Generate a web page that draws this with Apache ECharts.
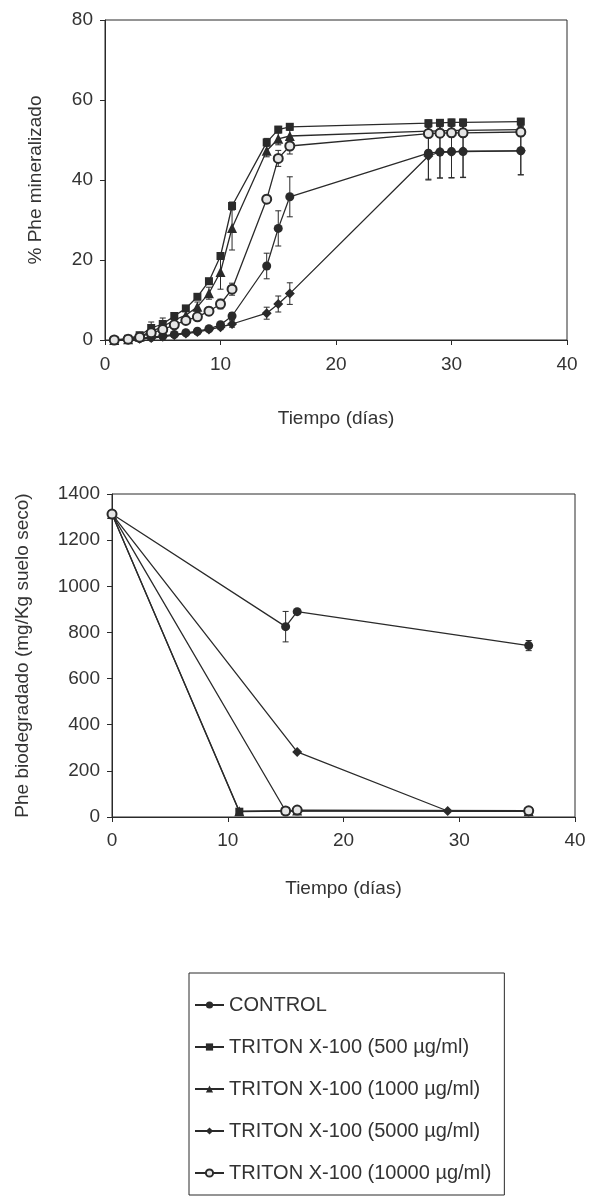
<!DOCTYPE html>
<html>
<head>
<meta charset="utf-8">
<script src="https://cdn.jsdelivr.net/npm/echarts@6/dist/echarts.min.js"></script>
<style>
  html, body { margin: 0; padding: 0; background: #fff; }
  #chart { width: 589px; height: 1204px; }
</style>
</head>
<body>
<div id="chart"></div>
<script>
// nombres de las series
var names = ['CONTROL', 'TRITON X-100 (500 \u00b5g/ml)', 'TRITON X-100 (1000 \u00b5g/ml)',
  'TRITON X-100 (5000 \u00b5g/ml)', 'TRITON X-100 (10000 \u00b5g/ml)'];

// grafico superior: % Phe mineralizado
var diasMin = [0.8, 2, 3, 4, 5, 6, 7, 8, 9, 10, 11, 14, 15, 16, 28, 29, 30, 31, 36];
var minControl = [0, 0.1, 0.4, 0.7, 1.0, 1.4, 1.8, 2.2, 2.8, 3.8, 6.0, 18.5, 27.9, 35.8, 46.7, 47, 47.1, 47.1, 47.3];
var min500 = [0, 0.3, 1.2, 3.0, 4.0, 6.0, 7.9, 10.8, 14.7, 21, 33.5, 49.4, 52.6, 53.3, 54.2, 54.3, 54.4, 54.4, 54.6];
var min1000 = [0, 0.2, 0.8, 2.2, 3.3, 5.0, 6.2, 8.3, 11.7, 17, 28, 47.3, 50.3, 51, 52.2, 52.3, 52.4, 52.4, 52.6];
var min5000 = [0, 0.1, 0.3, 0.5, 0.8, 1.2, 1.6, 2.0, 2.6, 3.2, 4.0, 6.7, 9.0, 11.6, 46, 47, 47, 47.2, 47.3];
var min10000 = [0, 0.2, 0.7, 1.8, 2.6, 3.8, 4.9, 5.8, 7.2, 9.0, 12.7, 35.2, 45.4, 48.5, 51.6, 51.7, 51.8, 51.8, 52];
var errControl = [0, 0, 0, 0.3, 0.3, 0.3, 0.3, 0.3, 0.5, 0.5, 0.8, 3.2, 4.4, 5, 6.5, 6.5, 6.5, 6.5, 6];
var err500 = [0, 0, 0.3, 1.5, 1.5, 0.5, 0.5, 0.5, 0.5, 0.8, 1, 1, 0.8, 0.8, 0.8, 0.8, 0.8, 0.8, 0.8];
var err1000 = [0, 0, 0.3, 1, 1, 1, 1, 1.2, 1.5, 4.3, 5.5, 1.5, 1.5, 1.5, 1, 1, 1, 1, 1];
var err5000 = [0, 0, 0, 0.3, 0.3, 0.3, 0.3, 0.4, 0.4, 0.6, 0.8, 1.5, 2, 2.7, 6, 6.5, 6.5, 6.5, 6];
var err10000 = [0, 0, 0.3, 0.8, 0.8, 0.8, 0.8, 0.8, 1, 1.2, 1.5, 1, 2, 2, 1, 1, 1, 1, 1];

// grafico inferior: Phe biodegradado
var diasControl = [0, 15, 16, 36];
var bioControl = [1313, 825, 890, 743];
var errBioControl = [0, 66, 0, 22];
var dias500 = [0, 11, 15, 36];
var bio500 = [1313, 23, 26, 26];
var dias1000 = [0, 11, 16, 36];
var bio1000 = [1313, 25, 28, 25];
var dias5000 = [0, 16, 29, 36];
var bio5000 = [1313, 282, 26, 24];
var dias10000 = [0, 15, 16, 36];
var bio10000 = [1313, 26, 30, 27];

var ink = '#2a2a2a';
var txt = '#333';
var font = 'Liberation Sans';

var marks = [
  { symbol: 'circle', size: 9, fill: ink },
  { symbol: 'rect', size: 8, fill: ink },
  { symbol: 'triangle', size: 10, fill: ink },
  { symbol: 'diamond', size: 10, fill: ink },
  { symbol: 'circle', size: 9, fill: '#e6e6e6' }
];

function pairs(xs, ys) {
  return xs.map(function (x, i) { return [x, ys[i]]; });
}
function bars(xs, ys, es) {
  var out = [];
  xs.forEach(function (x, i) {
    if (es[i] > 0) out.push([x, ys[i] - es[i], ys[i] + es[i]]);
  });
  return out;
}

function lineSeries(i, idx, data) {
  return {
    name: names[i],
    type: 'line',
    xAxisIndex: idx, yAxisIndex: idx,
    data: data,
    symbol: marks[i].symbol,
    symbolSize: marks[i].size,
    showAllSymbol: true,
    lineStyle: { color: ink, width: 1.3 },
    itemStyle: { color: marks[i].fill, borderColor: ink, borderWidth: marks[i].fill === ink ? 0 : 2 },
    emphasis: { disabled: true },
    animation: false,
    z: 3
  };
}

function errorItem(params, api) {
  var x = api.value(0);
  var top = api.coord([x, api.value(2)]);
  var bot = api.coord([x, api.value(1)]);
  var w = 3;
  var st = { stroke: ink, lineWidth: 1 };
  return {
    type: 'group',
    children: [
      { type: 'line', shape: { x1: top[0], y1: top[1], x2: bot[0], y2: bot[1] }, style: st },
      { type: 'line', shape: { x1: top[0] - w, y1: top[1], x2: top[0] + w, y2: top[1] }, style: st },
      { type: 'line', shape: { x1: bot[0] - w, y1: bot[1], x2: bot[0] + w, y2: bot[1] }, style: st }
    ]
  };
}
function errorSeries(idx, data) {
  return {
    type: 'custom',
    xAxisIndex: idx, yAxisIndex: idx,
    renderItem: errorItem,
    encode: { x: 0, y: [1, 2] },
    data: data,
    silent: true,
    animation: false,
    z: 2
  };
}

function xAxisCfg(idx, gap, margin) {
  return {
    type: 'value', gridIndex: idx, min: 0, max: 40, interval: 10,
    name: 'Tiempo (d\u00edas)', nameLocation: 'middle', nameGap: gap,
    nameTextStyle: { color: txt, fontSize: 19, fontFamily: font },
    axisLine: { lineStyle: { color: ink, width: 1 } },
    axisTick: { show: true, length: 5, lineStyle: { color: ink } },
    axisLabel: { color: txt, fontSize: 19, fontFamily: font, margin: margin },
    splitLine: { show: false }
  };
}
function yAxisCfg(idx, max, interval, title, gap) {
  return {
    type: 'value', gridIndex: idx, min: 0, max: max, interval: interval,
    name: title, nameLocation: 'middle', nameGap: gap,
    nameTextStyle: { color: txt, fontSize: 19, fontFamily: font },
    axisLine: { show: true, lineStyle: { color: ink, width: 1 } },
    axisTick: { show: true, length: 5, lineStyle: { color: ink } },
    axisLabel: { color: txt, fontSize: 19, fontFamily: font, margin: 12,
      formatter: function (v) { return String(v); } },
    splitLine: { show: false }
  };
}

var minSets = [minControl, min500, min1000, min5000, min10000];
var minErrs = [errControl, err500, err1000, err5000, err10000];
var bioDays = [diasControl, dias500, dias1000, dias5000, dias10000];
var bioSets = [bioControl, bio500, bio1000, bio5000, bio10000];

var series = [];
minSets.forEach(function (vals, i) {
  series.push(errorSeries(0, bars(diasMin, vals, minErrs[i])));
});
minSets.forEach(function (vals, i) {
  series.push(lineSeries(i, 0, pairs(diasMin, vals)));
});
series.push(errorSeries(1, bars(diasControl, bioControl, errBioControl)));
bioSets.forEach(function (vals, i) {
  series.push(lineSeries(i, 1, pairs(bioDays[i], vals)));
});

var chart = echarts.init(document.getElementById('chart'), null, { renderer: 'canvas' });
chart.setOption({
  backgroundColor: '#fff',
  animation: false,
  grid: [
    { left: 105, top: 20, width: 462, height: 320, show: true, borderColor: ink, borderWidth: 1 },
    { left: 112, top: 494, width: 463, height: 323, show: true, borderColor: ink, borderWidth: 1 }
  ],
  xAxis: [xAxisCfg(0, 69, 15), xAxisCfg(1, 62, 14)],
  yAxis: [
    yAxisCfg(0, 80, 20, '% Phe mineralizado', 60),
    yAxisCfg(1, 1400, 200, 'Phe biodegradado (mg/Kg suelo seco)', 80)
  ],
  legend: {
    data: names,
    orient: 'vertical',
    left: 189, top: 973,
    padding: [22, 13, 12, 5],
    itemWidth: 29, itemHeight: 9, itemGap: 22,
    borderColor: ink, borderWidth: 1,
    selectedMode: false,
    textStyle: { color: txt, fontSize: 20, fontFamily: font, lineHeight: 20 }
  },
  series: series
});
</script>
</body>
</html>
